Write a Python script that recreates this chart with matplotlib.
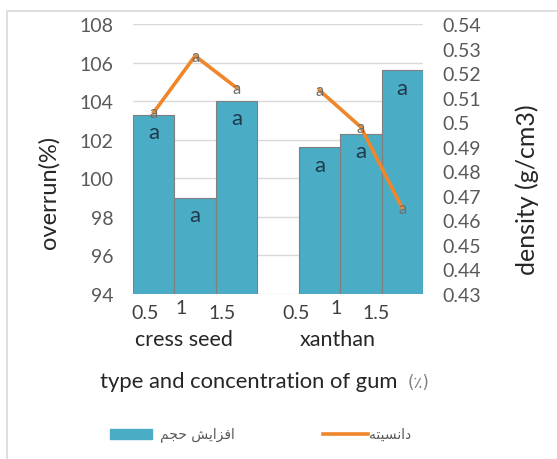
import numpy as np
import matplotlib
matplotlib.use('Agg')
from matplotlib import pyplot as plt
from matplotlib.patches import Rectangle
from matplotlib.lines import Line2D

plt.rcParams['font.family'] = ['Lato', 'DejaVu Sans']

groups = ['cress seed', 'xanthan']
concs = ['0.5', '1', '1.5']
overrun = [103.3, 99.0, 104.0, 101.6, 102.3, 105.6]
density = [0.504, 0.527, 0.514, 0.513, 0.498, 0.465]
bar_letters = ['a', 'a', 'a', 'a', 'a', 'a']
line_letters = ['a', 'a', 'a', 'a', 'a', 'a']
left_ticks = [94, 96, 98, 100, 102, 104, 106, 108]
right_ticks = [0.43, 0.44, 0.45, 0.46, 0.47, 0.48, 0.49, 0.5, 0.51, 0.52, 0.53, 0.54]
# persian legend labels, pre-shaped (presentation forms, visual order)
legend_bar = '\uFEE2\uFEA0\uFEA3 \uFEB6\uFEF3\uFE8D\uFEB0\uFED3\uFE8D'   # افزایش حجم
legend_line = '\uFEEA\uFE98\uFEF4\uFEB4\uFEE7\uFE8D\uFEA9'               # دانسیته

BAR_C = '#4BACC6'
LINE_C = '#F0862A'
TXT_C = '#595959'

pos = np.array([0, 1, 2, 4, 5, 6])
# labels in the original sit a bit left of the bar centres
tick_shift = np.array([0.2, 0.35, 0.35, 0.57, 0.6, 0.63])
group_x = [0.73, 4.45]

fig = plt.figure(figsize=(5.57, 4.6), dpi=100)
fig.patches.append(Rectangle((7 / 557, -0.1), 1.2, 1 - 12 / 460 + 0.1, transform=fig.transFigure,
                             fill=False, edgecolor='#D9D9D9', lw=1.2))
ax = fig.add_axes([133 / 557, 1 - 295 / 460, 290 / 557, 270 / 460])
ax2 = ax.twinx()

ax.bar(pos, np.array(overrun) - 94, bottom=94, width=1.0, color=BAR_C, edgecolor='#7F7F7F', lw=0.8, zorder=2)
ax.set_ylim(94, 108)
ax.set_xlim(-0.5, 6.5)
ax.set_yticks(left_ticks)
ax.yaxis.grid(True, color='#D9D9D9', lw=1)
ax.set_axisbelow(True)
for s in ax.spines.values():
    s.set_visible(False)
for s in ax2.spines.values():
    s.set_visible(False)
ax.tick_params(axis='y', length=0, pad=14, labelsize=14, labelcolor=TXT_C)
ax.set_xticks(pos - tick_shift)
ax.set_xticklabels(concs * 2)
ax.tick_params(axis='x', length=0, pad=7, labelsize=14, labelcolor='#404040')
for lbl in ax.get_xticklabels():
    if lbl.get_text() == '1':
        lbl.set_y(0.018)

for x, y, t in zip(pos, overrun, bar_letters):
    ax.text(x, y - 0.9, t, ha='center', va='center', fontsize=16, color='#1F3A4A', zorder=3)

for i in range(2):
    ax2.plot(pos[3 * i:3 * i + 3], density[3 * i:3 * i + 3], color=LINE_C, lw=2.6, zorder=4)
for x, y, t in zip(pos, density, line_letters):
    ax2.text(x, y, t, ha='center', va='center', fontsize=12, color='#6F6F6F', zorder=5)
ax2.set_ylim(0.43, 0.54)
ax2.set_yticks(right_ticks)
ax2.set_yticklabels(['%g' % v for v in right_ticks])
ax2.tick_params(axis='y', length=0, pad=14, labelsize=14, labelcolor=TXT_C)

fig.text(49 / 557, 1 - 192 / 460, 'overrun(%)', rotation=90, ha='center', va='center',
         fontsize=17, color='#262626')
fig.text(527 / 557, 1 - 190 / 460, 'density (g/cm3)', rotation=90, ha='center', va='center',
         fontsize=18, color='#262626')

for gx, g in zip(group_x, groups):
    fig.text((133 + 290 * (gx + 0.5) / 7) / 557, 1 - 340 / 460, g,
             ha='center', va='center', fontsize=15.5, color='#262626')
fig.text(100 / 557, 1 - 382 / 460, 'type and concentration of gum', ha='left', va='center',
         fontsize=15.8, color='#262626')
fig.text(408 / 557, 1 - 383 / 460, '(\u066A)', ha='left', va='center', fontsize=12, color='#7F7F7F',
         family=['DejaVu Sans'])

fig.patches.append(Rectangle((110 / 557, 1 - 440 / 460), 42 / 557, 10 / 460, transform=fig.transFigure,
                             color=BAR_C))
fig.text(160 / 557, 1 - 435 / 460, legend_bar, ha='left', va='center', fontsize=10, color=TXT_C,
         family=['DejaVu Sans'])
fig.lines.append(Line2D([323 / 557, 368 / 557], [1 - 435 / 460] * 2, transform=fig.transFigure,
                        color=LINE_C, lw=2.6))
fig.text(369 / 557, 1 - 435 / 460, legend_line, ha='left', va='center', fontsize=10, color=TXT_C,
         family=['DejaVu Sans'])

fig.savefig('out.png', dpi=100)
